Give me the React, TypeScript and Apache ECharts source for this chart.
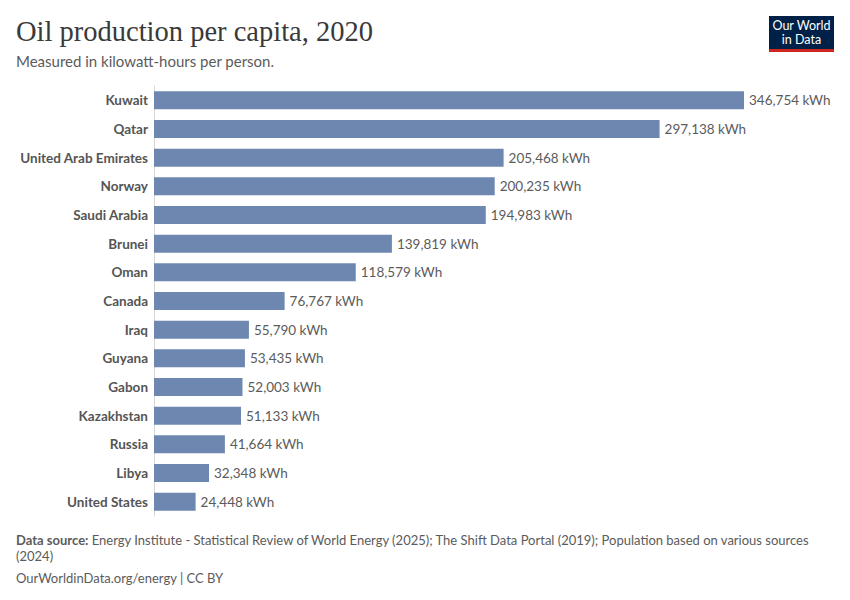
import React, { useEffect, useRef } from "react";
import * as echarts from "echarts";

const countries = [
  "Kuwait",
  "Qatar",
  "United Arab Emirates",
  "Norway",
  "Saudi Arabia",
  "Brunei",
  "Oman",
  "Canada",
  "Iraq",
  "Guyana",
  "Gabon",
  "Kazakhstan",
  "Russia",
  "Libya",
  "United States",
];

const values = [
  346754, 297138, 205468, 200235, 194983, 139819, 118579, 76767, 55790, 53435,
  52003, 51133, 41664, 32348, 24448,
];

const titleText = "Oil production per capita, 2020";
const subtitleText = "Measured in kilowatt-hours per person.";
const sourceLine1 =
  "Energy Institute - Statistical Review of World Energy (2025); The Shift Data Portal (2019); Population based on various sources";
const sourceLine2 = "(2024)";
const footerText = "OurWorldinData.org/energy | CC BY";

export default function App() {
  const ref = useRef<HTMLDivElement>(null);

  useEffect(() => {
    if (!ref.current) return;
    const chart = echarts.init(ref.current, undefined, { renderer: "svg" });
    const font = "Lato, 'Noto Sans', sans-serif";
    chart.setOption({
      animation: false,
      backgroundColor: "#ffffff",
      textStyle: { fontFamily: font },
      grid: { left: 154, right: 106, top: 86, bottom: 84, containLabel: false },
      xAxis: {
        type: "value",
        min: 0,
        max: values[0],
        show: false,
      },
      yAxis: {
        type: "category",
        data: countries,
        inverse: true,
        axisLine: { show: true, lineStyle: { color: "#d6d6d6", width: 1 } },
        axisTick: { show: false },
        axisLabel: {
          color: "#555555",
          fontWeight: "bold",
          fontSize: 13.5,
          fontFamily: font,
          margin: 6,
        },
      },
      series: [
        {
          type: "bar",
          data: values,
          barWidth: 18,
          itemStyle: { color: "#6d87b0" },
          label: {
            show: true,
            position: "right",
            distance: 5,
            color: "#5b5b5b",
            fontSize: 13.5,
            fontFamily: font,
            formatter: (p: any) =>
              Number(p.value).toLocaleString("en-US") + " kWh",
          },
        },
      ],
      graphic: [
        {
          type: "text",
          left: 16,
          top: 17,
          style: {
            text: titleText,
            fontFamily: "'Liberation Serif', 'DejaVu Serif', serif",
            fontSize: 28.5,
            fill: "#3a3a3a",
          },
        },
        {
          type: "text",
          left: 16,
          top: 53,
          style: {
            text: subtitleText,
            fontFamily: font,
            fontSize: 15,
            fill: "#5b5b5b",
          },
        },
        {
          type: "rect",
          shape: { x: 769, y: 16, width: 65, height: 33 },
          style: { fill: "#002147" },
        },
        {
          type: "rect",
          shape: { x: 769, y: 49, width: 65, height: 3 },
          style: { fill: "#ce261e" },
        },
        {
          type: "text",
          x: 801.5,
          y: 18.5,
          style: {
            text: "Our World\nin Data",
            fontFamily: font,
            fontSize: 12.5,
            lineHeight: 14,
            fill: "#ffffff",
            align: "center",
          },
        },
        {
          type: "text",
          left: 16,
          top: 533,
          style: {
            text: "{b|Data source:} " + sourceLine1,
            fontFamily: font,
            fontSize: 13,
            fill: "#5b5b5b",
            rich: {
              b: {
                fontWeight: "bold",
                fontFamily: font,
                fontSize: 13,
                fill: "#5b5b5b",
              },
            },
          },
        },
        {
          type: "text",
          left: 16,
          top: 549,
          style: {
            text: sourceLine2,
            fontFamily: font,
            fontSize: 13,
            fill: "#5b5b5b",
          },
        },
        {
          type: "text",
          left: 16,
          top: 571,
          style: {
            text: footerText,
            fontFamily: font,
            fontSize: 13,
            fill: "#5b5b5b",
          },
        },
      ],
    });
    return () => chart.dispose();
  }, []);

  return <div ref={ref} style={{ width: 850, height: 600, margin: -8 }} />;
}
